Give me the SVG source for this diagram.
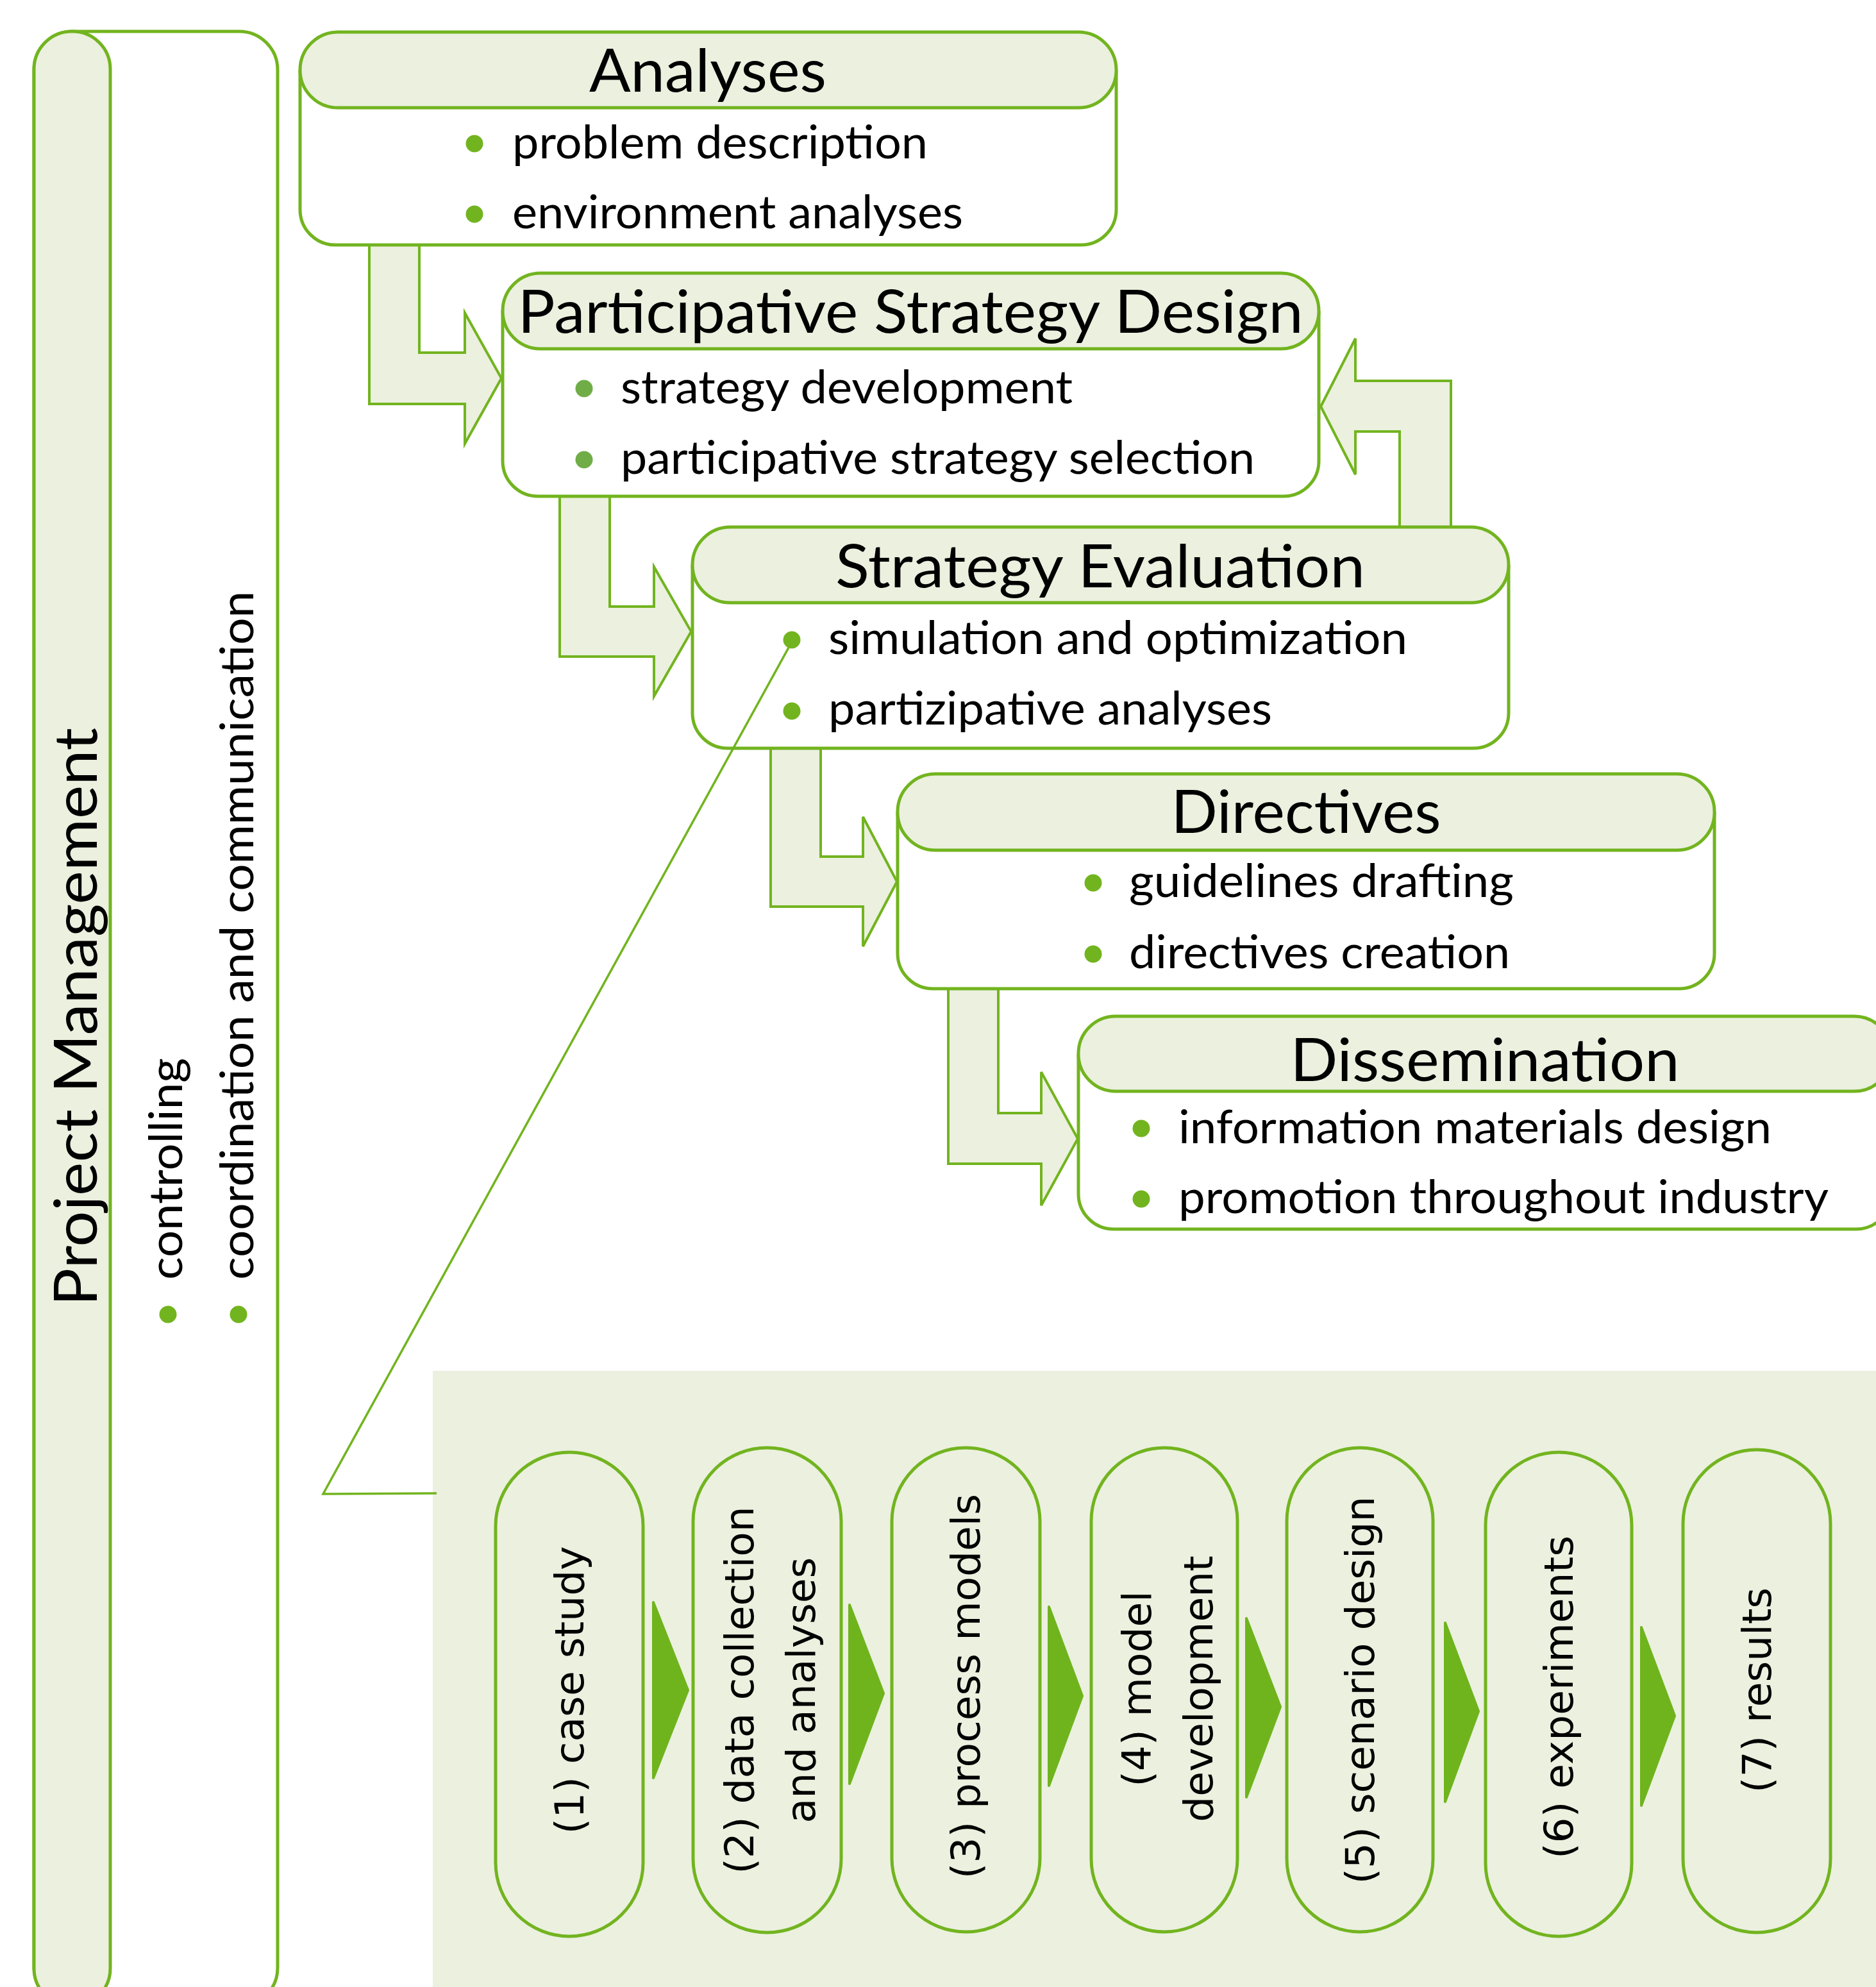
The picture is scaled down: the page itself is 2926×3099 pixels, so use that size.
<svg xmlns="http://www.w3.org/2000/svg" width="2926" height="3099" viewBox="0 0 2926 3099">
<style>
.box{fill:#FFFFFF;stroke:#72B41F;stroke-width:5}
.hdr{fill:#EBF0DF;stroke:#72B41F;stroke-width:5}
.arrow{fill:#EBF0DF;stroke:#72B41F;stroke-width:4;stroke-linejoin:miter}
.title{font-family:Lato,"Liberation Sans",sans-serif;font-size:94px;fill:#000}
.item{font-family:Lato,"Liberation Sans",sans-serif;font-size:72px;fill:#000}
.dot{fill:#72B41F}
.dot2{fill:#70AD47}
.pill{fill:#EBF0DF;stroke:#72B41F;stroke-width:5}
.ptext{font-family:"DejaVu Sans",Verdana,sans-serif;font-size:63px;fill:#000;text-anchor:middle}
.tri{fill:#6FB41D;stroke:#6FB41D;stroke-width:4;stroke-linejoin:round}
.callout{fill:none;stroke:#72B41F;stroke-width:3.5;stroke-linejoin:miter}
</style>
<rect width="2926" height="3099" fill="#FFFFFF"/>

<g id="project-management">
  <rect class="box" x="53" y="49" width="380" height="3080" rx="60" ry="60"/>
  <rect class="hdr" x="53" y="49" width="119" height="3080" rx="59" ry="59"/>
  <text class="title" text-anchor="middle" transform="translate(151,1586) rotate(-90)" textLength="902" lengthAdjust="spacingAndGlyphs">Project Management</text>
  <circle class="dot" cx="262" cy="2050" r="13.5"/>
  <text class="item" transform="translate(284,1996) rotate(-90)" textLength="346" lengthAdjust="spacingAndGlyphs">controlling</text>
  <circle class="dot" cx="372" cy="2050" r="13.5"/>
  <text class="item" transform="translate(395,1996) rotate(-90)" textLength="1074" lengthAdjust="spacingAndGlyphs">coordination and communication</text>
</g>

<g id="connectors">
  <polygon class="arrow" points="576,382 654,382 654,550 725,550 725,488 782,590 725,692 725,630 576,630"/>
  <polygon class="arrow" points="873,774 951,774 951,946 1020,946 1020,884 1078,985 1020,1086 1020,1024 873,1024"/>
  <polygon class="arrow" points="1202,1167 1280,1167 1280,1336 1346,1336 1346,1274 1399,1375 1346,1476 1346,1414 1202,1414"/>
  <polygon class="arrow" points="1479,1541 1557,1541 1557,1736 1624,1736 1624,1672 1681,1776 1624,1880 1624,1815 1479,1815"/>
  <polygon class="arrow" points="2183,822 2263,822 2263,594 2114,594 2114,528 2060,634 2114,740 2114,673 2183,673"/>
</g>

<g id="analyses">
  <path class="box" d="M468,109 V327 A55,55 0 0 0 523,382 H1686 A55,55 0 0 0 1741,327 V109"/>
  <rect class="hdr" x="468" y="50" width="1273" height="118" rx="59" ry="59"/>
  <text class="title" x="1104" y="143" text-anchor="middle" textLength="370" lengthAdjust="spacingAndGlyphs">Analyses</text>
  <circle class="dot" cx="740" cy="224" r="13.5"/>
  <text class="item" x="799" y="247" textLength="648" lengthAdjust="spacingAndGlyphs">problem description</text>
  <circle class="dot" cx="740" cy="334" r="13.5"/>
  <text class="item" x="799" y="356" textLength="703" lengthAdjust="spacingAndGlyphs">environment analyses</text>
</g>

<g id="participative-strategy-design">
  <path class="box" d="M784,485 V719 A55,55 0 0 0 839,774 H2002 A55,55 0 0 0 2057,719 V485"/>
  <rect class="hdr" x="784" y="426" width="1273" height="118" rx="59" ry="59"/>
  <text class="title" x="1420" y="519" text-anchor="middle" textLength="1225" lengthAdjust="spacingAndGlyphs">Participative Strategy Design</text>
  <circle class="dot2" cx="911" cy="606" r="13.5"/>
  <text class="item" x="968" y="629" textLength="705" lengthAdjust="spacingAndGlyphs">strategy development</text>
  <circle class="dot2" cx="911" cy="717" r="13.5"/>
  <text class="item" x="968" y="739" textLength="989" lengthAdjust="spacingAndGlyphs">participative strategy selection</text>
</g>

<g id="strategy-evaluation">
  <path class="box" d="M1080,881 V1112 A55,55 0 0 0 1135,1167 H2298 A55,55 0 0 0 2353,1112 V881"/>
  <rect class="hdr" x="1080" y="822" width="1273" height="118" rx="59" ry="59"/>
  <text class="title" x="1716" y="916" text-anchor="middle" textLength="826" lengthAdjust="spacingAndGlyphs">Strategy Evaluation</text>
  <circle class="dot" cx="1235" cy="998" r="13.5"/>
  <text class="item" x="1292" y="1020" textLength="903" lengthAdjust="spacingAndGlyphs">simulation and optimization</text>
  <circle class="dot" cx="1235" cy="1109" r="13.5"/>
  <text class="item" x="1292" y="1130" textLength="692" lengthAdjust="spacingAndGlyphs">partizipative analyses</text>
</g>

<g id="directives">
  <path class="box" d="M1400,1266 V1487 A55,55 0 0 0 1455,1542 H2619 A55,55 0 0 0 2674,1487 V1266"/>
  <rect class="hdr" x="1400" y="1207" width="1274" height="119" rx="59" ry="59"/>
  <text class="title" x="2037" y="1299" text-anchor="middle" textLength="421" lengthAdjust="spacingAndGlyphs">Directives</text>
  <circle class="dot" cx="1705" cy="1377" r="13.5"/>
  <text class="item" x="1761" y="1399" textLength="600" lengthAdjust="spacingAndGlyphs">guidelines drafting</text>
  <circle class="dot" cx="1705" cy="1488" r="13.5"/>
  <text class="item" x="1761" y="1510" textLength="594" lengthAdjust="spacingAndGlyphs">directives creation</text>
</g>

<g id="dissemination">
  <path class="box" d="M1682,1644 V1862 A55,55 0 0 0 1737,1917 H2895 A55,55 0 0 0 2950,1862 V1644"/>
  <rect class="hdr" x="1682" y="1585" width="1268" height="117" rx="58" ry="58"/>
  <text class="title" x="2316" y="1686" text-anchor="middle" textLength="607" lengthAdjust="spacingAndGlyphs">Dissemination</text>
  <circle class="dot" cx="1780" cy="1760" r="13.5"/>
  <text class="item" x="1838" y="1783" textLength="925" lengthAdjust="spacingAndGlyphs">information materials design</text>
  <circle class="dot" cx="1780" cy="1870" r="13.5"/>
  <text class="item" x="1838" y="1892" textLength="1014" lengthAdjust="spacingAndGlyphs">promotion throughout industry</text>
</g>

<g id="simulation-detail">
  <rect x="675" y="2138" width="2251" height="961" fill="#EBF0DF"/>
  <polyline class="callout" points="1235,1001 504,2330 681,2329"/>
  <g id="step1">
    <rect class="pill" x="773" y="2265" width="230" height="755" rx="115" ry="115"/>
    <text class="ptext" transform="translate(910,2636) rotate(-90)">(1) case study</text>
  </g>
  <g id="step2">
    <rect class="pill" x="1081" y="2258" width="231" height="756" rx="115" ry="115"/>
    <text class="ptext" transform="translate(1175,2636) rotate(-90)">(2) data collection</text>
    <text class="ptext" transform="translate(1271,2636) rotate(-90)">and analyses</text>
  </g>
  <g id="step3">
    <rect class="pill" x="1391" y="2258" width="231" height="755" rx="115" ry="115"/>
    <text class="ptext" transform="translate(1528,2630) rotate(-90)">(3) process models</text>
  </g>
  <g id="step4">
    <rect class="pill" x="1702" y="2258" width="228" height="755" rx="114" ry="114"/>
    <text class="ptext" transform="translate(1795,2634) rotate(-90)">(4) model</text>
    <text class="ptext" transform="translate(1891,2634) rotate(-90)">development</text>
  </g>
  <g id="step5">
    <rect class="pill" x="2007" y="2258" width="228" height="755" rx="114" ry="114"/>
    <text class="ptext" transform="translate(2143,2636) rotate(-90)">(5) scenario design</text>
  </g>
  <g id="step6">
    <rect class="pill" x="2317" y="2265" width="228" height="755" rx="114" ry="114"/>
    <text class="ptext" transform="translate(2453,2647) rotate(-90)">(6) experiments</text>
  </g>
  <g id="step7">
    <rect class="pill" x="2625" y="2261" width="230" height="753" rx="115" ry="115"/>
    <text class="ptext" transform="translate(2762,2636) rotate(-90)">(7) results</text>
  </g>
  <g id="step-arrows">
    <polygon class="tri" points="1019,2499 1073,2636 1019,2773"/>
    <polygon class="tri" points="1325,2503 1378,2641 1325,2782"/>
    <polygon class="tri" points="1636,2506 1688,2645 1636,2785"/>
    <polygon class="tri" points="1944,2524 1997,2662 1944,2803"/>
    <polygon class="tri" points="2254,2531 2306,2669 2254,2810"/>
    <polygon class="tri" points="2560,2538 2612,2676 2560,2816"/>
  </g>
</g>
</svg>
